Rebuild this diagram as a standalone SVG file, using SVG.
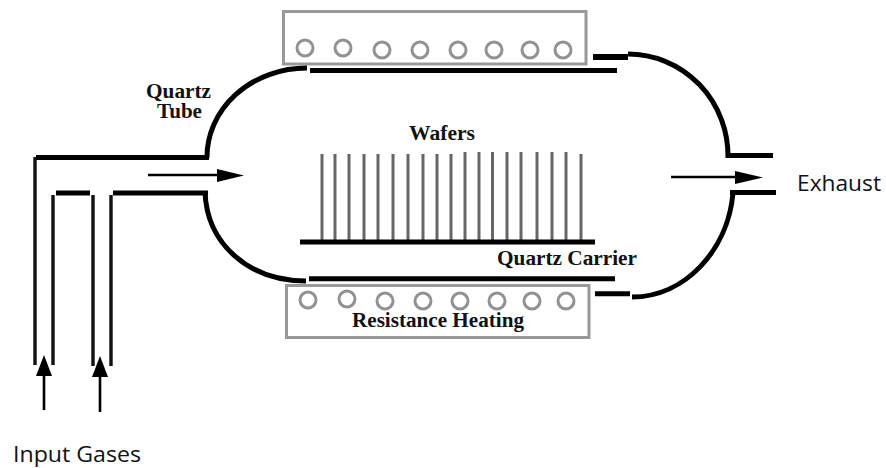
<svg xmlns="http://www.w3.org/2000/svg" width="886" height="468" viewBox="0 0 886 468">
<style>
.t{fill:none;stroke:#000;stroke-width:5}
.p{fill:none;stroke:#111;stroke-width:3.4}
.box{fill:none;stroke:#999;stroke-width:3}
.c{fill:none;stroke:#929292;stroke-width:3}
.w{stroke:#666;stroke-width:3}
.a{stroke:#000;stroke-width:2.6;fill:none}
.s{font-family:"Liberation Serif",serif;font-weight:700;font-size:20.500px;fill:#111}
.l{font-family:"Open Sans",sans-serif;font-size:22px;fill:#111}
</style>
<rect width="886" height="468" fill="#fff"/>
<g id="heater-top">
<rect class="box" x="283.5" y="11.5" width="302.5" height="52.5"/>
<circle class="c" cx="305" cy="48" r="8"/><circle class="c" cx="343" cy="48" r="8"/><circle class="c" cx="382" cy="50" r="8"/><circle class="c" cx="420" cy="50" r="8"/><circle class="c" cx="458" cy="50" r="8"/><circle class="c" cx="494" cy="50" r="8"/><circle class="c" cx="530" cy="50" r="8"/><circle class="c" cx="563" cy="50" r="8"/>
</g>
<g id="heater-bottom">
<rect class="box" x="286.5" y="285.5" width="302.5" height="52"/>
<circle class="c" cx="308" cy="300" r="8"/><circle class="c" cx="347" cy="299" r="8"/><circle class="c" cx="385" cy="301" r="8"/><circle class="c" cx="423" cy="301" r="8"/><circle class="c" cx="460" cy="301" r="8"/><circle class="c" cx="497" cy="301" r="8"/><circle class="c" cx="532" cy="301" r="8"/><circle class="c" cx="566" cy="301" r="8"/>
<text class="s" x="352" y="327" textLength="172" lengthAdjust="spacingAndGlyphs">Resistance Heating</text>
</g>
<g id="quartz-tube">
<path class="t" d="M36 157.500H209"/>
<path class="t" d="M207 158A100 89 0 0 1 307 68"/>
<path class="t" d="M310 70.500H617"/>
<path class="t" d="M593 57H628" style="stroke-width:6"/>
<path class="t" d="M628 54A100 102 0 0 1 728 158"/>
<path class="t" d="M726 155.500H773"/>
<path class="t" d="M730 192.500H776"/>
<path class="t" d="M733 193C728 250 685 297 632 297"/>
<path class="t" d="M595 293.700H630"/>
<path class="t" d="M309 278.700H615"/>
<path class="t" d="M205 192C207 245 250 281 306 281"/>
<path class="t" d="M56 193H90"/>
<path class="t" d="M113 193H208"/>
<path class="p" d="M35 157V365M53 195V365M93 195V366M111 195V366"/>
</g>
<g id="wafers">
<path class="w" d="M322 154V240M335 154V240M349 154V240M364 154V240M378 154V240M393 154V240M408 154V240M423 154V240M437 154V240M451 154V240M465 152V240M479 152V240M492.500 152V240M507 152V240M521 152V240M537 152V240M552 152V240M566 152V240M581 154V240"/>
<path class="t" d="M300 242H595"/>
<text class="s" x="409" y="140" textLength="66" lengthAdjust="spacingAndGlyphs">Wafers</text>
</g>
<g id="labels">
<text class="s" x="146" y="97.500" textLength="65" lengthAdjust="spacingAndGlyphs">Quartz</text>
<text class="s" x="157" y="118" textLength="45" lengthAdjust="spacingAndGlyphs">Tube</text>
<text class="s" x="497" y="265" textLength="140" lengthAdjust="spacingAndGlyphs">Quartz Carrier</text>
<text class="l" x="797" y="190.500" textLength="84" lengthAdjust="spacingAndGlyphs">Exhaust</text>
<text class="l" x="13" y="462" textLength="128" lengthAdjust="spacingAndGlyphs">Input Gases</text>
</g>
<g id="connectors">
<path class="a" d="M148 175H218"/><path d="M217 169L244 175.500L217 182Z"/>
<path class="a" d="M671 177H736"/><path d="M735 171L763 177.500L735 184Z"/>
<path class="a" d="M44 410V375"/><path d="M36 376L44 355L52 376Z"/>
<path class="a" d="M100 412V376"/><path d="M92 377L100 356L108 377Z"/>
</g>
</svg>
